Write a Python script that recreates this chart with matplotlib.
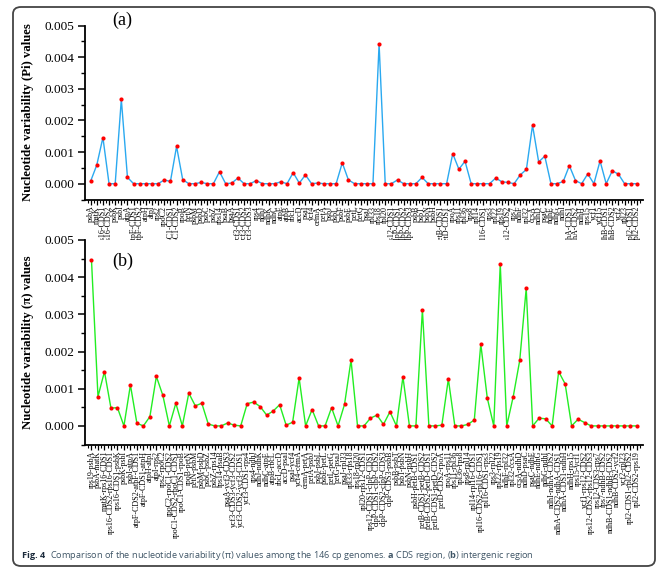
import matplotlib
matplotlib.use("Agg")
import matplotlib.pyplot as plt
from matplotlib.patches import FancyBboxPatch
from matplotlib.ticker import MultipleLocator, FixedLocator

# ---------------- data ----------------
cds_genes = ["psbA","matK","rps16-CDS1","rps16-CDS2","psbK","psbI","atpA","atpF-CDS1","atpF-CDS2","atpH",
             "atpI","rps2","rpoC2","rpoC1-CDS1","rpoC1-CDS2","rpoB","petN","psbM","psbD","psbC",
             "psbZ","rps14","psaB","psaA","ycf3-CDS1","ycf3-CDS2","ycf3-CDS3","rps4","ndhJ","ndhK",
             "ndhC","atpE","atpB","rbcL","accD","psaI","ycf4","cemA","petA","psbJ",
             "psbL","psbF","psbE","petL","petG","psaJ","rpl33","rps18","rpl20","rps12-CDS1",
             "clpP-CDS1","clpP-CDS2","clpP-CDS3","psbB","psbT","psbN","psbH","petB-CDS1","petD-CDS1","rpoA",
             "rps11","rpl36","rps8","rpl14","rpl16-CDS1","rps3","rpl22","rps19","rps12-CDS2","rps7",
             "ndhF","rpl32","ccsA","ndhD","psaC","ndhE","ndhG","ndhI","ndhA-CDS1","ndhA-CDS2",
             "ndhH","rps15","ycf1","ycf15","ndhB-CDS1","ndhB-CDS2","ycf2","rpl23","rpl2-CDS1","rpl2-CDS2"]
cds_pi = [0.00008, 0.00059, 0.00146, 0.0, 0.0, 0.00267, 0.00020, 0.0, 0.0, 0.0,
          0.0, 0.0, 0.00012, 0.00007, 0.00118, 0.00013, 0.0, 0.0, 0.00004, 0.0,
          0.0, 0.00038, 0.0, 0.00002, 0.00018, 0.0, 0.0, 0.00010, 0.0, 0.0,
          0.0, 0.00006, 0.0, 0.00035, 0.00002, 0.00028, 0.0, 0.00002, 0.0, 0.0,
          0.0, 0.00066, 0.00012, 0.0, 0.0, 0.0, 0.0, 0.00442, 0.0, 0.0,
          0.00012, 0.0, 0.0, 0.0, 0.00020, 0.0, 0.0, 0.0, 0.0, 0.00095,
          0.00046, 0.00071, 0.0, 0.0, 0.0, 0.0, 0.00018, 0.00006, 0.00004, 0.0,
          0.00028, 0.00045, 0.00185, 0.00069, 0.00087, 0.0, 0.0, 0.00007, 0.00057, 0.00010,
          0.0, 0.00031, 0.0, 0.00072, 0.0, 0.00041, 0.00030, 0.0, 0.0, 0.0]

igs_regions = ["rps19-psbA","psbA-matK","matK-rps16-CDS1","rps16-CDS2-rps16-CDS1","rps16-CDS1-psbK",
               "psbK-psbI","psbI-atpA","atpF-CDS2-atpF-CDS1","atpF-CDS1-atpH","atpH-atpI",
               "atpI-rps2","rps2-rpoC2","rpoC2-rpoC1-CDS2","rpoC1-CDS2-rpoC1-CDS1","rpoC1-CDS1-rpoB",
               "rpoB-petN","petN-psbM","psbM-psbD","psbC-psbZ","psbZ-rps14",
               "rps14-psaB","psaA-ycf3-CDS3","ycf3-CDS3-ycf3-CDS2","ycf3-CDS2-ycf3-CDS1","ycf3-CDS1-rps4",
               "rps4-ndhJ","ndhJ-ndhK","ndhC-atpE","atpB-rbcL","rbcL-accD",
               "accD-psaI","psaI-ycf4","ycf4-cemA","cemA-petA","petA-psbJ",
               "psbJ-psbL","psbE-petL","petL-petG","petG-psaJ","psaJ-rpl33",
               "rpl33-rps18","rps18-rpl20","rpl20-rps12-CDS1","rps12-CDS1-clpP-CDS1","clpP-CDS1-clpP-CDS2",
               "clpP-CDS2-clpP-CDS3","clpP-CDS3-psbB","psbB-psbT","psbT-psbN","psbN-psbH",
               "psbH-petB-CDS1","petB-CDS1-petB-CDS2","petB-CDS2-petD-CDS1","petD-CDS1-petD-CDS2","petD-CDS2-rpoA",
               "rpoA-rps11","rps11-rpl36","rpl36-rps8","rps8-rpl14","rpl14-rpl16-CDS1",
               "rpl16-CDS2-rpl16-CDS1","rpl16-CDS1-rps3","rps3-rpl22","rpl22-rps19","ndhF-rpl32",
               "rpl32-ccsA","ccsA-ndhD","ndhD-psaC","psaC-ndhE","ndhE-ndhG",
               "ndhG-ndhI","ndhI-ndhA-CDS2","ndhA-CDS2-ndhA-CDS1","ndhA-CDS1-ndhH","ndhH-rps15",
               "rps15-ycf1","ycf1-rps12-CDS2","rps12-CDS2-rps12-CDS3","rps12-CDS3-rps7","rps7-ndhB-CDS2",
               "ndhB-CDS1-ndhB-CDS2","ndhB-CDS2-ycf2","ycf2-rpl23","rpl2-CDS1-rpl2-CDS2","rpl2-CDS2-rps19"]
igs_pi = [0.00446, 0.00079, 0.00146, 0.00048, 0.00049, 0.0, 0.00110, 0.00007, 0.0, 0.00025,
          0.00133, 0.00082, 0.0, 0.00061, 0.0, 0.00088, 0.00054, 0.00061, 0.00005, 0.0,
          0.0, 0.00008, 0.00002, 0.0, 0.00060, 0.00064, 0.00052, 0.00029, 0.00040, 0.00057,
          0.00002, 0.00010, 0.00129, 0.0, 0.00044, 0.0, 0.0, 0.00049, 0.0, 0.00058,
          0.00177, 0.0, 0.0, 0.00021, 0.00029, 0.00004, 0.00038, 0.0, 0.00132, 0.0,
          0.0, 0.00312, 0.0, 0.0, 0.00002, 0.00126, 0.0, 0.0, 0.00004, 0.00016,
          0.00220, 0.00075, 0.0, 0.00436, 0.0, 0.00079, 0.00176, 0.00370, 0.0, 0.00021,
          0.00019, 0.0, 0.00146, 0.00113, 0.0, 0.00018, 0.00009, 0.0, 0.0, 0.0,
          0.0, 0.0, 0.0, 0.0, 0.0]

yticks = [0.000, 0.001, 0.002, 0.003, 0.004, 0.005]

# ---------------- figure ----------------
plt.rcParams["font.family"] = "serif"
plt.rcParams["font.serif"] = ["Liberation Serif", "DejaVu Serif"]
plt.rcParams["mathtext.fontset"] = "custom"
plt.rcParams["mathtext.rm"] = "Open Sans"
plt.rcParams["mathtext.bf"] = "Open Sans:bold"

W, H = 666, 573
fig = plt.figure(figsize=(W / 100, H / 100), dpi=100)

def px(x0, y0, x1, y1):
    return [x0 / W, 1 - y1 / H, (x1 - x0) / W, (y1 - y0) / H]

ax1 = fig.add_axes(px(84.5, 25.7, 643, 199.5))
ax2 = fig.add_axes(px(85, 240, 643, 444.5))

def style(ax, labels, values, color, ylabel, tag, tagpos):
    x = list(range(len(values)))
    ax.plot(x, values, color=color, lw=1.0, zorder=2)
    ax.plot(x, values, ls="none", marker="o", ms=3.0, mfc="#ff0000", mec="#ff0000",
            mew=0, zorder=3)
    ax.set_xlim(-1, len(values))
    ax.set_ylim(-0.0005, 0.005)
    for s in ("top", "right"):
        ax.spines[s].set_visible(False)
    for s in ("left", "bottom"):
        ax.spines[s].set_linewidth(1.3)
    ax.set_yticks(yticks)
    ax.set_yticklabels([f"{v:.3f}" for v in yticks], fontsize=9.5)
    ax.yaxis.set_minor_locator(MultipleLocator(0.0005))
    ax.set_xticks(x)
    ax.set_xticklabels(labels, rotation=90, fontsize=5.8, ha="center", va="top")
    ax.xaxis.set_minor_locator(FixedLocator([i + 0.5 for i in range(-1, len(values))]))
    ax.tick_params(axis="y", which="major", direction="out", length=5, width=1.1, pad=2.5)
    ax.tick_params(axis="y", which="minor", direction="out", length=3, width=1.0)
    ax.tick_params(axis="x", which="major", direction="out", length=3.5, width=0.9, pad=1)
    ax.tick_params(axis="x", which="minor", direction="out", length=2.5, width=0.8)
    ax.set_ylabel(ylabel, fontsize=9.2, fontweight="bold")
    ax.yaxis.set_label_coords(-0.091, 0.5)
    ax.text(tagpos[0], tagpos[1], tag, transform=ax.transAxes,
            fontsize=13, ha="center", va="center")

style(ax1, cds_genes, cds_pi, "#2aa9f0", "Nucleotide variability (Pi) values", "(a)",
      (0.0675, 1.03))
style(ax2, igs_regions, igs_pi, "#22ee22", "Nucleotide variability (\u03c0) values", "(b)",
      (0.0675, 0.895))

# outer frame
frame = FancyBboxPatch((13 / W, 1 - 566 / H), (655 - 13) / W, (566 - 7) / H,
                       boxstyle="round,pad=0,rounding_size=0.012",
                       transform=fig.transFigure, fill=False, edgecolor="#444444",
                       linewidth=1.3, zorder=10)
fig.patches.append(frame)

# caption
renderer = fig.canvas.get_renderer()
yc = 1 - 555 / H
t1 = fig.text(22 / W, yc, "Fig. 4", fontfamily=["Open Sans", "DejaVu Sans"], fontsize=6.6,
              fontweight="bold", color="#1c2b3c", ha="left", va="center")
bb = t1.get_window_extent(renderer=renderer)
fig.text(22 / W + bb.width / W + 5 / W, yc,
         "Comparison of the nucleotide variability (\u03c0) values among the 146 cp genomes. "
         r"$\mathbf{a}$ CDS region, ($\mathbf{b}$) intergenic region",
         fontfamily=["Open Sans", "DejaVu Sans"], fontsize=6.6, color="#3f5566",
         ha="left", va="center")

fig.savefig("out.png", dpi=100)
